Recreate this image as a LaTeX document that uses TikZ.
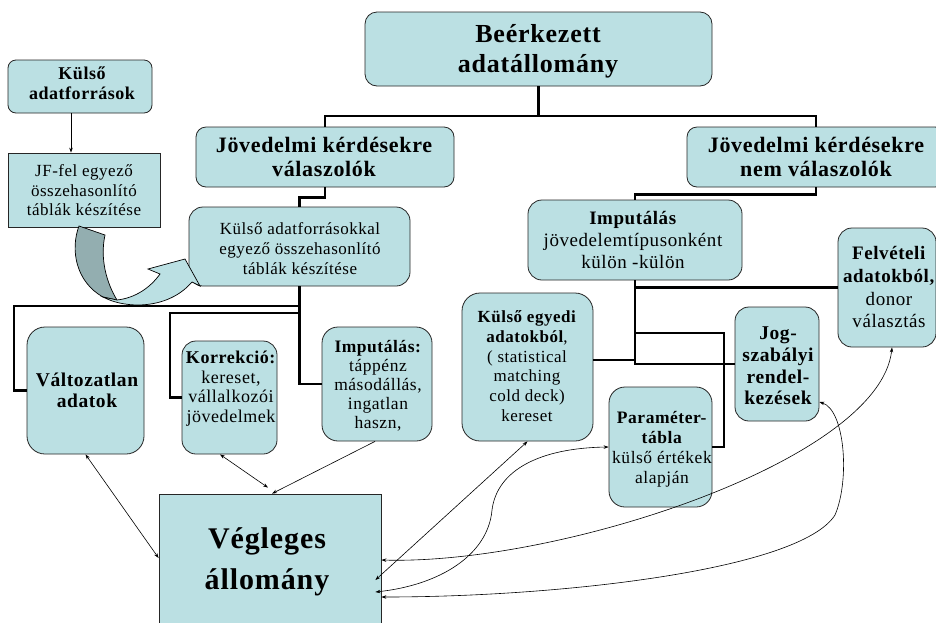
\documentclass[tikz,border=0pt]{standalone}
\usepackage{fontspec}
\setmainfont{Liberation Serif}[LetterSpace=3]
\usetikzlibrary{arrows.meta}
\definecolor{boxfill}{RGB}{187,224,227}
\definecolor{ribdark}{RGB}{147,174,176}
\newcommand{\fsz}[2]{\fontsize{#1}{#2}\selectfont}
\tikzset{
  rbox/.style={draw=black!85, line width=0.8pt, fill=boxfill, rounded corners=#1, inner sep=0pt},
  rbox/.default=12pt,
  sqbox/.style={draw=black!85, line width=0.8pt, fill=boxfill, inner sep=0pt},
  txt/.style={align=center, inner sep=0pt},
  conn/.style={line width=2.8pt, line join=miter},
  fine/.style={line width=0.6pt},
  dbl/.style={fine, {Stealth[length=5pt,width=3.5pt]}-{Stealth[length=5pt,width=3.5pt]}},
  sgl/.style={fine, -{Stealth[length=5pt,width=3.5pt]}},
  rib/.style={draw=black, line width=0.7pt}
}
\begin{document}
\begin{tikzpicture}[x=1pt,y=-1pt]
\useasboundingbox (0,0) rectangle (936,622);
\clip (0,0) rectangle (936,622);
\fill[white] (0,0) rectangle (936,622);

% boxes
\node[rbox=12pt, minimum width=347pt, minimum height=74pt] (title) at (538.5,49) {};
\node[rbox=8pt, minimum width=144pt, minimum height=53pt] (kulso) at (80,86.5) {};
\node[sqbox, minimum width=152pt, minimum height=74pt] (jf) at (84,190) {};
\node[rbox=10pt, minimum width=258pt, minimum height=60pt] (valasz) at (325,157) {};
\node[rbox=10pt, minimum width=258pt, minimum height=60pt] (nemvalasz) at (816,157) {};
\node[rbox=14pt, minimum width=221pt, minimum height=79pt] (kulsoegyezo) at (299.5,246.5) {};
\node[rbox=14pt, minimum width=214pt, minimum height=80pt] (imput) at (635,240) {};
\node[rbox=14pt, minimum width=98pt, minimum height=119pt] (felv) at (887,287.5) {};
\node[rbox=18pt, minimum width=117pt, minimum height=127pt] (valtoz) at (85.5,390.5) {};
\node[rbox=14pt, minimum width=95pt, minimum height=113pt] (korr) at (229.5,397.5) {};
\node[rbox=16pt, minimum width=110pt, minimum height=114pt] (imptap) at (377,384) {};
\node[rbox=18pt, minimum width=131pt, minimum height=148pt] (kulsoegy) at (527.5,367) {};
\node[rbox=16pt, minimum width=103pt, minimum height=120pt] (param) at (660.5,447) {};
\node[rbox=14pt, minimum width=84pt, minimum height=114pt] (jog) at (777,364) {};
\node[sqbox, minimum width=222pt, minimum height=146pt] (vegl) at (270,567) {};

% texts
\node[txt, font=\bfseries\fsz{26}{30}] (ttitle) at (538,51) {Beérkezett\\adatállomány};
\node[txt, font=\bfseries\fsz{18}{20}] (tkulso) at (82,83.7) {Külső\\adatforrások};
\node[txt, font=\fsz{17}{19.5}] (tjf) at (84,190.5) {JF-fel egyező\\összehasonlító\\táblák készítése};
\node[txt, font=\bfseries\fsz{22}{24}] (tvalasz) at (324,157.3) {Jövedelmi kérdésekre\\válaszolók};
\node[txt, font=\bfseries\fsz{22}{24}] (tnemvalasz) at (816,157.3) {Jövedelmi kérdésekre\\nem válaszolók};
\node[txt, font=\fsz{17}{20}] (tkulsoegyezo) at (300,249) {Külső adatforrásokkal\\egyező összehasonlító\\táblák készítése};
\node[txt, font=\fsz{19}{22}] (timput) at (633,240.3) {\textbf{Imputálás}\\jövedelemtípusonként\\külön -külön};
\node[txt, font=\fsz{19}{22.7}] (tfelv) at (889,287.3) {\textbf{Felvételi}\\\textbf{adatokból,}\\donor\\választás};
\node[txt, font=\bfseries\fsz{19.5}{21}] (tvaltoz) at (87,390.7) {Változatlan\\adatok};
\node[txt, font=\fsz{18}{19.5}] (tkorr) at (231,388.8) {\textbf{Korrekció:}\\kereset,\\vállalkozói\\jövedelmek};
\node[txt, font=\fsz{17.5}{19}] (timptap) at (378,385.3) {\textbf{Imputálás:}\\táppénz\\másodállás,\\ingatlan\\haszn,};
\node[txt, font=\fsz{17}{19.7}] (tkulsoegy) at (527,366) {\textbf{Külső egyedi}\\\textbf{adatokból},\\( statistical\\matching\\cold deck)\\kereset};
\node[txt, font=\fsz{17.5}{20}] (tparam) at (662,448.8) {\textbf{Paraméter-}\\\textbf{tábla}\\külső értékek\\alapján};
\node[txt, font=\bfseries\fsz{19.5}{21.7}] (tjog) at (778,366) {Jog-\\szabályi\\rendel-\\kezések};
\node[txt, font=\bfseries\fsz{30}{41}] (tvegl) at (267,562.3) {Végleges\\állomány};

% curved ribbon arrow
\draw[rib, fill=ribdark] (79,226) .. controls (70,250) and (76,282) .. (103,297)
  -- (117,300) .. controls (106,282) and (100,258) .. (105,235) -- cycle;
\draw[rib, fill=boxfill] (103,297) .. controls (125,309) and (168,310) .. (192,282)
  -- (200,286) -- (185,259) -- (148,269) -- (160,274)
  .. controls (150,288) and (135,298) .. (117,300) -- cycle;

% thick tree connectors
\coordinate (busA) at (0,116);
\draw[conn] (title.south) -- (title.south |- busA);
\draw[conn] (valasz.north) |- (nemvalasz.north |- busA) -- (nemvalasz.north);
\draw[conn] (valasz.south) -- ++(0,10) -| (kulsoegyezo.north);
\draw[conn] (kulsoegyezo.south) |- (imptap.west);
\coordinate (busC1) at (0,306);
\coordinate (busC2) at (0,313);
\coordinate (cL1) at (14,306);
\coordinate (cL2) at (170,313);
\draw[conn] (kulsoegyezo.south |- busC1) -- (cL1) |- (valtoz.west);
\draw[conn] (kulsoegyezo.south |- busC2) -- (cL2) |- (korr.west);
\draw[conn] (nemvalasz.south) -- ++(0,7) -| (imput.north);
\draw[conn] (imput.south) |- (jog.west);
\draw[conn] (imput.south) |- (felv.west);
\coordinate (busE) at (0,333);
\coordinate (cR) at (724,333);
\draw[conn] (imput.south |- busE) -- (cR) |- (param.east);
\coordinate (ke) at ([yshift=7pt]kulsoegy.east);
\draw[conn] (ke) -- (ke -| imput.south);

% thin arrows
\draw[sgl] ([xshift=-9pt]kulso.south) -- ([xshift=-13pt]jf.north);
\draw[dbl] (valtoz.south) -- ([yshift=9pt]vegl.west);
\draw[dbl] ([xshift=-9.5pt]korr.south) -- ([xshift=-2pt,yshift=6pt]vegl.north);
\draw[sgl] ([xshift=-2pt]imptap.south) -- ([xshift=2pt]vegl.north);
\draw[dbl] (kulsoegy.south) -- ([xshift=-6pt,yshift=-13pt]vegl.east);
\draw[dbl] ([xshift=-6pt,yshift=-25pt]vegl.east) .. controls (440,585) and (488,555) .. (492,510)
  .. controls (497,470) and (540,448) .. (param.west);
\draw[dbl] ([xshift=5pt]felv.south) .. controls (880,460) and (560,565) .. ([yshift=7pt]vegl.east);
\draw[dbl] ([yshift=-38pt]jog.east) .. controls (845,410) and (850,480) .. (835,515)
  .. controls (800,570) and (560,597) .. ([yshift=-30pt]vegl.east);
\end{tikzpicture}
\end{document}
